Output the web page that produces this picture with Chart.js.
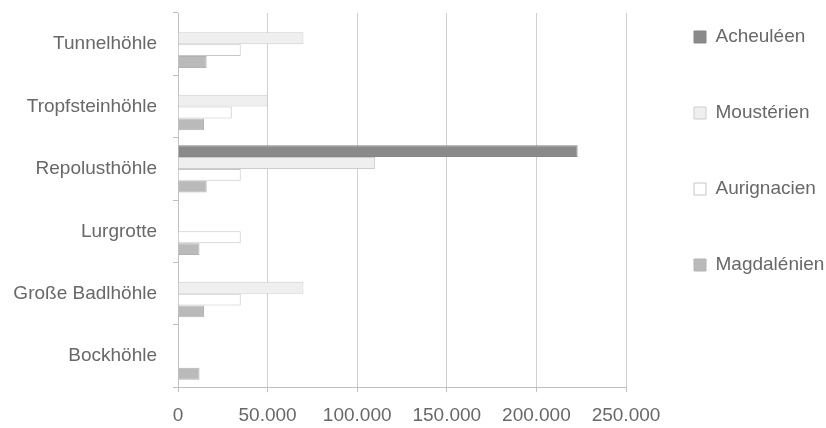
<!DOCTYPE html>
<html lang="de">
<head>
  <meta charset="UTF-8" />
  <title>Höhlenfunde</title>
  <script src="https://cdn.jsdelivr.net/npm/chart.js"></script>
  <style>
    * { box-sizing: border-box; margin: 0; padding: 0; }
    body { background: #fff; width: 826px; height: 428px; overflow: hidden; }
    #wrap { position: relative; width: 826px; height: 428px; }
  </style>
</head>
<body>
  <div id="wrap"><canvas id="chart"></canvas></div>
  <script>
    // Kategorien (von oben nach unten)
    const caves = ['Tunnelhöhle', 'Tropfsteinhöhle', 'Repolusthöhle', 'Lurgrotte', 'Große Badlhöhle', 'Bockhöhle'];

    // Werte je Kultur
    const acheuleen   = [null, null, 223000, null, null, null];
    const mousterien  = [70000, 50000, 110000, null, 70000, null];
    const aurignacien = [35000, 30000, 35000, 35000, 35000, null];
    const magdalenien = [16000, 14500, 16000, 12000, 14500, 12000];

    const xTicks = [0, 50000, 100000, 150000, 200000, 250000];

    const fmt = v => v.toLocaleString('de-DE');
    const textColor = '#686868';
    const font = { family: "'Liberation Sans', Arial, sans-serif", size: 19 };
    const legendPad = 57;

    // Legende: feste Breite und Position wie im Original
    const legendFix = {
      id: 'legendFix',
      beforeLayout(chart) {
        const lg = chart.legend;
        if (!lg || lg._fixed) return;
        const fit = lg.fit;
        lg.fit = function () { fit.call(this); this.width = 200; };
        lg._fixed = true;
      },
      afterLayout(chart) {
        const lg = chart.legend;
        if (!lg) return;
        lg.left = 694 - legendPad; lg.right = lg.left + lg.width;
        lg.top = 37 - font.size / 2 - legendPad; lg.bottom = lg.top + lg.height;
      }
    };

    new Chart(document.getElementById('chart'), {
      type: 'bar',
      data: {
        labels: caves,
        datasets: [
          { label: 'Acheuléen', data: acheuleen, backgroundColor: '#8a8a8a', borderColor: '#858585', borderWidth: 1 },
          { label: 'Moustérien', data: mousterien, backgroundColor: '#efefef', borderColor: '#cdcdcd', borderWidth: 1 },
          { label: 'Aurignacien', data: aurignacien, backgroundColor: '#ffffff', borderColor: '#c6c6c6', borderWidth: 1 },
          { label: 'Magdalénien', data: magdalenien, backgroundColor: '#bababa', borderColor: '#b2b2b2', borderWidth: 1 }
        ]
      },
      plugins: [legendFix],
      options: {
        indexAxis: 'y',
        responsive: true,
        maintainAspectRatio: false,
        animation: false,
        datasets: { bar: { categoryPercentage: 0.76, barPercentage: 1.0 } },
        layout: { padding: { top: 13, left: 0, right: 0, bottom: -11 } },
        plugins: {
          tooltip: { enabled: false },
          legend: {
            position: 'right',
            align: 'start',
            labels: {
              color: textColor,
              font: font,
              boxWidth: 12,
              boxHeight: 12,
              padding: legendPad
            }
          }
        },
        scales: {
          x: {
            min: 0,
            max: 250000,
            afterBuildTicks: axis => { axis.ticks = xTicks.map(v => ({ value: v })); },
            ticks: { color: textColor, font: font, padding: 12, maxRotation: 0, callback: v => fmt(v) },
            grid: { color: '#d0d0d0', lineWidth: 1, tickLength: 5, tickColor: '#c0c0c0' },
            border: { color: '#c0c0c0' }
          },
          y: {
            afterFit: axis => { axis.width = 178; axis.paddingTop = 0; axis.paddingBottom = 0; },
            ticks: { color: textColor, font: font, padding: 16 },
            grid: { offset: true, drawOnChartArea: false, drawTicks: true, tickLength: 5, color: '#c0c0c0' },
            border: { color: '#c0c0c0' }
          }
        }
      }
    });
  </script>
</body>
</html>
